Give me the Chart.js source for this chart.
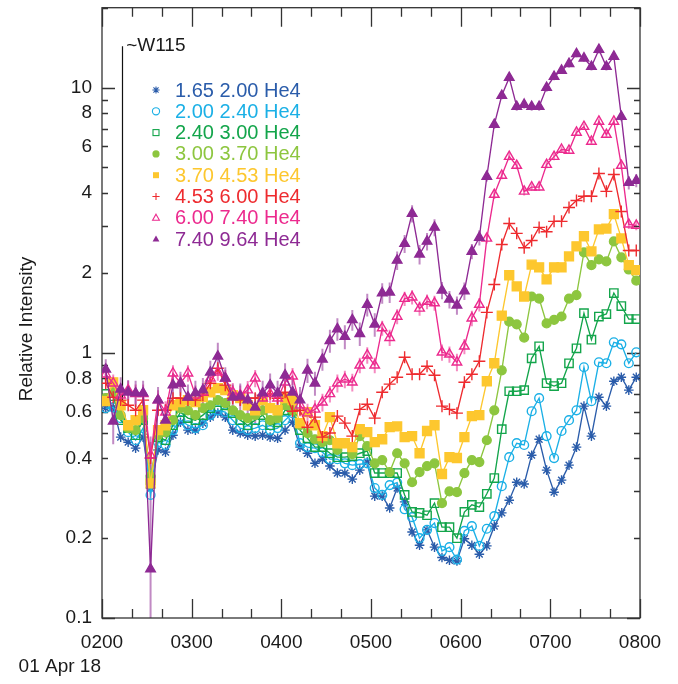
<!DOCTYPE html>
<html><head><meta charset="utf-8">
<script src="https://cdn.jsdelivr.net/npm/chart.js@4.4.1/dist/chart.umd.min.js"></script>
<style>html,body{margin:0;padding:0;background:#fff;}canvas{display:block;}</style>
</head><body>
<canvas id="c" width="678" height="684"></canvas>
<script>
// time of each sample, minutes after 02:00 UT, 01 Apr 18
const minutes = [2.5,7.5,12.5,17.5,22.5,27.5,32.5,37.5,42.5,47.5,52.5,57.5,62.5,67.5,72.5,77.5,82.5,87.5,92.5,97.5,
 102.5,107.5,112.5,117.5,122.5,127.5,132.5,137.5,142.5,147.5,152.5,157.5,162.5,167.5,172.5,177.5,182.5,187.5,192.5,197.5,
 202.5,207.5,212.5,217.5,222.5,227.5,232.5,237.5,242.5,247.5,252.5,257.5,262.5,267.5,272.5,277.5,282.5,287.5,292.5,297.5,
 302.5,307.5,312.5,317.5,322.5,327.5,332.5,337.5,342.5,347.5,352.5,357.5];
const xTickLabels = ['0200','0300','0400','0500','0600','0700','0800'];
const xTickMinutes = [0,60,120,180,240,300,360];
const yTickValues = [0.1,0.2,0.4,0.6,0.8,1,2,4,6,8,10];
const seriesNames = ['1.65 2.00 He4','2.00 2.40 He4','2.40 3.00 He4','3.00 3.70 He4','3.70 4.53 He4','4.53 6.00 He4','6.00 7.40 He4','7.40 9.64 He4'];

const he1 = [0.618,0.623,0.481,0.460,0.437,0.481,0.309,0.430,0.422,0.489,
 0.547,0.511,0.511,0.543,0.572,0.592,0.572,0.511,0.498,0.489,
 0.485,0.489,0.481,0.476,0.511,0.547,0.441,0.418,0.383,0.397,
 0.374,0.352,0.352,0.334,0.361,0.387,0.288,0.288,0.260,0.309,
 0.274,0.211,0.188,0.215,0.185,0.169,0.165,0.164,0.199,0.188,
 0.174,0.187,0.222,0.249,0.278,0.325,0.320,0.411,0.472,0.361,
 0.298,0.331,0.377,0.441,0.629,0.485,0.680,0.629,0.781,0.809,
 0.723,0.809];
const he2 = [0.618,0.623,0.567,0.502,0.468,0.520,0.291,0.460,0.449,0.511,
 0.557,0.533,0.520,0.533,0.582,0.607,0.597,0.557,0.520,0.511,
 0.520,0.533,0.511,0.520,0.557,0.592,0.456,0.441,0.437,0.422,
 0.397,0.397,0.383,0.377,0.380,0.383,0.309,0.291,0.317,0.324,
 0.257,0.240,0.200,0.215,0.228,0.179,0.185,0.166,0.213,0.222,
 0.187,0.217,0.242,0.314,0.404,0.456,0.449,0.602,0.674,0.485,
 0.401,0.507,0.557,0.607,0.882,0.657,0.921,0.913,1.095,1.076,
 0.913,1.004];
const he3 = [0.700,0.686,0.557,0.520,0.489,0.557,0.331,0.481,0.468,0.533,
 0.597,0.567,0.557,0.582,0.618,0.651,0.634,0.592,0.557,0.533,
 0.557,0.582,0.533,0.547,0.607,0.607,0.511,0.476,0.441,0.441,
 0.418,0.404,0.404,0.408,0.418,0.426,0.352,0.352,0.352,0.352,
 0.291,0.251,0.249,0.244,0.271,0.220,0.220,0.200,0.251,0.267,
 0.262,0.294,0.337,0.515,0.716,0.716,0.723,0.953,1.058,0.768,
 0.749,0.768,0.913,1.040,1.41,1.12,1.37,1.40,1.68,1.50,
 1.34,1.34];
const he4 = [0.674,0.710,0.582,0.520,0.511,0.567,0.343,0.489,0.502,0.557,
 0.618,0.607,0.582,0.618,0.634,0.663,0.646,0.607,0.582,0.567,
 0.582,0.607,0.557,0.567,0.634,0.607,0.533,0.498,0.472,0.460,
 0.468,0.430,0.456,0.415,0.485,0.445,0.383,0.394,0.355,0.418,
 0.383,0.325,0.355,0.374,0.383,0.271,0.300,0.298,0.352,0.394,
 0.387,0.468,0.607,0.859,1.31,1.28,1.14,1.63,1.60,1.29,
 1.33,1.37,1.60,1.65,2.39,2.14,2.25,2.21,2.63,2.29,
 2.06,1.87];
const he5 = [0.657,0.774,0.634,0.533,0.557,0.607,0.322,0.511,0.533,0.634,
 0.651,0.663,0.651,0.680,0.710,0.736,0.723,0.692,0.674,0.634,
 0.607,0.663,0.618,0.607,0.674,0.663,0.543,0.597,0.533,0.485,
 0.572,0.456,0.456,0.441,0.515,0.502,0.460,0.472,0.524,0.528,
 0.481,0.485,0.418,0.507,0.533,0.349,0.404,0.401,0.481,0.577,
 0.582,0.781,0.913,1.38,1.96,1.78,1.63,2.15,2.10,1.89,
 2.10,2.10,2.31,2.52,2.75,2.41,2.92,2.94,3.33,2.70,
 2.14,2.05];
const he6 = [0.768,0.680,0.663,0.634,0.607,0.663,0.401,0.607,0.607,0.674,
 0.674,0.663,0.663,0.692,0.768,0.874,0.755,0.674,0.663,0.674,
 0.674,0.692,0.700,0.674,0.710,0.602,0.607,0.524,0.572,0.481,
 0.498,0.577,0.543,0.485,0.612,0.640,0.567,0.710,0.762,0.809,
 0.962,0.830,0.830,0.890,0.823,0.629,0.612,0.592,0.774,0.830,
 0.929,1.42,1.81,2.56,3.07,2.82,2.49,2.65,2.97,2.86,
 3.13,3.13,3.53,3.75,3.89,3.89,4.74,4.06,4.70,3.41,
 2.43,2.43];
const he7 = [0.830,0.768,0.692,0.723,0.700,0.700,0.411,0.663,0.597,0.837,
 0.768,0.837,0.692,0.710,0.802,0.844,0.802,0.710,0.692,0.723,
 0.802,0.674,0.700,0.674,0.774,0.816,0.634,0.592,0.612,0.651,
 0.700,0.768,0.795,0.774,0.897,0.979,0.897,1.24,1.14,1.37,
 1.60,1.62,1.47,1.56,1.54,1.004,0.987,0.921,1.058,1.35,
 1.52,2.70,3.95,4.66,5.49,5.08,4.06,4.21,4.21,5.12,
 5.49,5.84,5.79,6.77,7.12,6.26,7.45,6.65,7.45,5.08,
 3.05,3.02];
const he8 = [0.866,0.552,0.729,0.710,0.705,0.705,0.153,0.663,0.557,0.755,
 0.768,0.680,0.705,0.723,0.844,0.970,0.802,0.680,0.686,0.663,
 0.623,0.705,0.755,0.705,0.823,0.710,0.663,0.859,0.768,0.945,
 1.11,1.23,1.15,1.33,1.18,1.52,1.28,1.68,1.69,2.23,
 2.58,3.35,2.35,2.63,2.97,1.72,1.59,1.51,1.71,2.41,
 2.72,4.62,7.25,9.33,10.9,8.48,8.63,8.48,8.48,10.0,
 11.0,11.6,12.3,13.4,12.9,12.0,13.9,12.0,13.1,7.77,
 4.38,4.46];
// estimated 1-sigma error bars (absolute) for the two highest channels
const he7Err = [0.06,0.06,0.06,0.06,0.06,0.06,0.05,0.06,0.06,0.06,
 0.06,0.06,0.06,0.06,0.06,0.06,0.06,0.06,0.06,0.06,
 0.06,0.06,0.06,0.06,0.06,0.06,0.05,0.05,0.05,0.05,
 0.05,0.06,0.06,0.06,0.06,0.07,0.06,0.08,0.08,0.09,
 0.10,0.10,0.09,0.10,0.10,0.07,0.07,0.07,0.07,0.09,
 0.09,0.12,0.15,0.15,0.17,0.16,0.14,0.14,0.14,0.16,
 0.17,0.17,0.17,0.19,0.20,0.18,0.20,0.19,0.20,0.16,
 0.12,0.12];
const he8Err = [0.08,0.10,0.08,0.08,0.08,0.08,0.33,0.08,0.08,0.08,
 0.08,0.08,0.08,0.08,0.09,0.12,0.08,0.08,0.08,0.08,
 0.08,0.08,0.08,0.08,0.09,0.08,0.08,0.09,0.08,0.09,
 0.11,0.12,0.12,0.12,0.12,0.15,0.13,0.15,0.15,0.18,
 0.20,0.25,0.20,0.20,0.22,0.13,0.12,0.12,0.13,0.16,
 0.18,0.20,0.25,0.30,0.35,0.30,0.30,0.30,0.30,0.35,
 0.35,0.35,0.40,0.40,0.40,0.40,0.45,0.40,0.40,0.30,
 0.25,0.25];

const seriesValues = [he1,he2,he3,he4,he5,he6,he7,he8];
const seriesErrors = [null,null,null,null,null,null,he7Err,he8Err];
const colors = ['#2a5caa','#1bb0e6','#13a54b','#8dc63f','#fdc72e','#ee2b2f','#ec2a8e','#8e2a94'];
const errColors = [null,null,null,null,null,null,'rgba(236,42,142,0.55)','rgba(142,42,148,0.55)'];
const styles = [
  {ps:'star', r:4.8, fill:true},
  {ps:'circle', r:4.4, fill:false},
  {ps:'rect', r:5.9, fill:false},
  {ps:'circle', r:4.4, fill:true},
  {ps:'rect', r:6.3, fill:true},
  {ps:'cross', r:6, fill:true},
  {ps:'triangle', r:5.5, fill:false},
  {ps:'triangle', r:5.5, fill:true}
];
const W115 = {minute:13.5, top:14.3, bottom:0.62, label:'~W115'};

Chart.defaults.font.family = '"Liberation Sans", Arial, Helvetica, sans-serif';

const datasets = seriesValues.map((vals, k) => ({
  label: seriesNames[k],
  data: vals.map((v, i) => ({x: minutes[i], y: v})),
  borderColor: colors[k],
  backgroundColor: styles[k].fill ? colors[k] : 'rgba(0,0,0,0)',
  pointBorderColor: colors[k],
  pointBackgroundColor: styles[k].fill ? colors[k] : 'rgba(0,0,0,0)',
  pointStyle: styles[k].ps,
  pointRadius: styles[k].r,
  pointBorderWidth: 1.4,
  borderWidth: 1.35,
  tension: 0,
  order: 7 - k,
  errors: seriesErrors[k],
  errColor: errColors[k]
}));

function marker(ctx, ps, x, y, r, color, fill) {
  ctx.save();
  ctx.strokeStyle = color; ctx.fillStyle = color; ctx.lineWidth = 1.1;
  ctx.beginPath();
  if (ps === 'circle') { ctx.arc(x, y, r, 0, Math.PI*2); fill ? ctx.fill() : ctx.stroke(); }
  else if (ps === 'rect') { const s = r; fill ? ctx.fillRect(x-s, y-s, 2*s, 2*s) : ctx.strokeRect(x-s, y-s, 2*s, 2*s); }
  else if (ps === 'triangle') { ctx.moveTo(x, y-r); ctx.lineTo(x+r*0.95, y+r*0.7); ctx.lineTo(x-r*0.95, y+r*0.7); ctx.closePath(); fill ? ctx.fill() : ctx.stroke(); }
  else if (ps === 'cross') { ctx.moveTo(x-r, y); ctx.lineTo(x+r, y); ctx.moveTo(x, y-r); ctx.lineTo(x, y+r); ctx.stroke(); }
  else if (ps === 'star') { for (let a=0; a<4; a++){ const t=a*Math.PI/4; ctx.moveTo(x-r*Math.cos(t), y-r*Math.sin(t)); ctx.lineTo(x+r*Math.cos(t), y+r*Math.sin(t)); } ctx.stroke(); }
  ctx.restore();
}

const framePlugin = {
  id: 'frame',
  beforeDatasetsDraw(chart) {
    const {ctx, chartArea: a, scales: {x, y}} = chart;
    ctx.save();
    // error bars
    ctx.beginPath(); ctx.rect(a.left, a.top, a.right-a.left, a.bottom-a.top); ctx.clip();
    chart.data.datasets.forEach(ds => {
      if (!ds.errors) return;
      ctx.strokeStyle = ds.errColor; ctx.lineWidth = 2;
      ds.data.forEach((p, i) => {
        const e = ds.errors[i];
        const px = x.getPixelForValue(p.x);
        const lo = Math.max(p.y - e, 0.01);
        ctx.beginPath();
        ctx.moveTo(px, y.getPixelForValue(p.y + e));
        ctx.lineTo(px, y.getPixelForValue(lo));
        ctx.stroke();
      });
    });
    ctx.restore();
    ctx.save();
    ctx.strokeStyle = '#333'; ctx.lineWidth = 1.3;
    ctx.strokeRect(a.left, a.top, a.right-a.left, a.bottom-a.top);
    // x ticks (major every hour, minor every 20 minutes)
    ctx.beginPath();
    for (let m = 0; m <= 360; m += 20) {
      const px = Math.round(x.getPixelForValue(m)) + 0.5;
      const len = (m % 60 === 0) ? 19 : 9;
      ctx.moveTo(px, a.bottom); ctx.lineTo(px, a.bottom - len);
      ctx.moveTo(px, a.top); ctx.lineTo(px, a.top + len);
    }
    // y ticks (log decades)
    for (let d = -1; d <= 1; d++) {
      for (let k = 1; k <= 9; k++) {
        const v = k * Math.pow(10, d);
        if (v < 0.1 || v > 20) continue;
        const py = Math.round(y.getPixelForValue(v)) + 0.5;
        const len = (k === 1) ? 13 : 6;
        ctx.moveTo(a.left, py); ctx.lineTo(a.left + len, py);
        ctx.moveTo(a.right, py); ctx.lineTo(a.right - len, py);
      }
    }
    ctx.stroke();
    // ~W115 marker line
    const wx = Math.round(x.getPixelForValue(W115.minute)) + 0.5;
    ctx.strokeStyle = '#111'; ctx.lineWidth = 1.2;
    ctx.beginPath();
    ctx.moveTo(wx, y.getPixelForValue(W115.top));
    ctx.lineTo(wx, y.getPixelForValue(W115.bottom));
    ctx.stroke();
    ctx.restore();
  },
  afterDraw(chart) {
    const {ctx, chartArea: a, scales: {x, y}} = chart;
    ctx.save();
    ctx.font = '19px "Liberation Sans", Arial, sans-serif';
    ctx.fillStyle = '#1a1a1a';
    ctx.textBaseline = 'middle';
    const wx = x.getPixelForValue(W115.minute);
    ctx.textAlign = 'left';
    ctx.fillText(W115.label, wx + 4, y.getPixelForValue(W115.top) - 1);
    // date under first tick label
    ctx.textAlign = 'right';
    ctx.fillText('01 Apr 18', x.getPixelForValue(0) - 1, 667);
    // y axis title
    ctx.save();
    ctx.translate(27, 329);
    ctx.rotate(-Math.PI/2);
    ctx.textAlign = 'center';
    ctx.fillText('Relative Intensity', 0, 0);
    ctx.restore();
    // legend
    ctx.font = '20px "Liberation Sans", Arial, sans-serif';
    ctx.textAlign = 'left';
    chart.data.datasets.forEach((ds, k) => {
      const ly = 90 + 21.3 * k;
      const st = styles[k];
      marker(ctx, st.ps, 156, ly, st.ps === 'rect' ? 3 : 3.6, colors[k], st.fill);
      ctx.fillStyle = colors[k];
      ctx.fillText(ds.label, 175, ly + 1);
    });
    ctx.restore();
  }
};

new Chart(document.getElementById('c'), {
  type: 'line',
  data: { datasets },
  options: {
    responsive: false,
    animation: false,
    devicePixelRatio: 1,
    layout: { padding: { left: 0, right: 38, top: 7, bottom: 0 } },
    plugins: { legend: { display: false }, tooltip: { enabled: false } },
    scales: {
      x: {
        type: 'linear', min: 0, max: 360,
        grid: { display: false, drawTicks: false },
        border: { display: false },
        afterBuildTicks: s => { s.ticks = xTickMinutes.map(v => ({value: v})); },
        afterFit: s => { s.height = 66; s.paddingLeft = 0; s.paddingRight = 0; },
        ticks: {
          autoSkip: false, maxRotation: 0, padding: 13,
          color: '#1a1a1a', font: { size: 19 },
          callback: (v, i) => xTickLabels[i]
        }
      },
      y: {
        type: 'logarithmic', min: 0.1, max: 20,
        grid: { display: false, drawTicks: false },
        border: { display: false },
        afterBuildTicks: s => { s.ticks = yTickValues.map(v => ({value: v})); },
        afterFit: s => { s.width = 102; s.paddingTop = 0; s.paddingBottom = 0; },
        ticks: {
          autoSkip: false, padding: 10,
          color: '#1a1a1a', font: { size: 19 },
          callback: v => String(v)
        }
      }
    }
  },
  plugins: [framePlugin]
});
</script>
</body></html>
